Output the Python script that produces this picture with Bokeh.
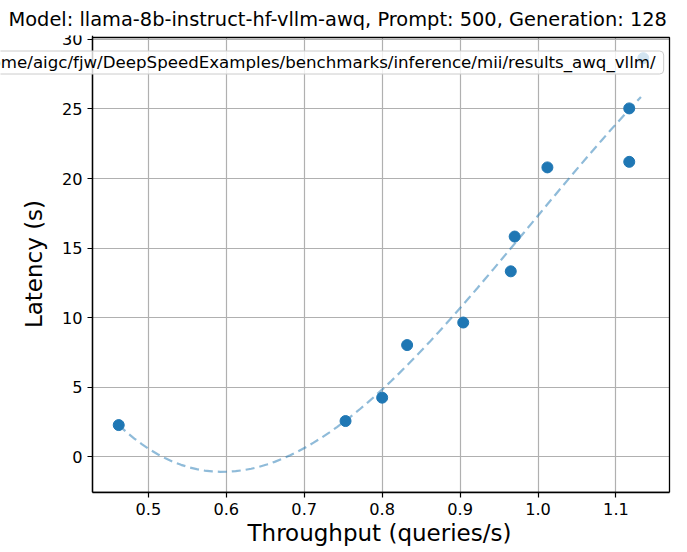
import numpy as np
from bokeh.plotting import figure
from bokeh.models import Range1d, FixedTicker, PrintfTickFormatter, Label, Title
from bokeh.embed import file_html
from bokeh.resources import INLINE

# ---- data ----
throughput = [0.462, 0.753, 0.800, 0.832, 0.904, 0.965, 0.970, 1.012, 1.117, 1.117, 1.135]
latency = [2.28, 2.57, 4.25, 8.03, 9.65, 13.33, 15.83, 20.8, 21.2, 25.04, 28.65]
x_ticks = [0.5, 0.6, 0.7, 0.8, 0.9, 1.0, 1.1]
y_ticks = [0, 5, 10, 15, 20, 25, 30]
title_text = "Model: llama-8b-instruct-hf-vllm-awq, Prompt: 500, Generation: 128"
legend_label = "/home/aigc/fjw/DeepSpeedExamples/benchmarks/inference/mii/results_awq_vllm/"
x_label = "Throughput (queries/s)"
y_label = "Latency (s)"

# cubic fit of the measured points (as in the original benchmark plot)
coef = np.polyfit(throughput, latency, 3)
fit_x = np.arange(min(throughput), max(throughput), 0.01)
fit_y = np.poly1d(coef)(fit_x)

# matplotlib-like 5% margins -> limits of the axes box
xmin, xmax = min(throughput), max(throughput)
ymin = min(min(latency), fit_y.min())
ymax = max(max(latency), fit_y.max())
x_lo, x_hi = xmin - 0.05 * (xmax - xmin), xmax + 0.05 * (xmax - xmin)
y_lo, y_hi = ymin - 0.05 * (ymax - ymin), ymax + 0.05 * (ymax - ymin)

# layout (pixels): the plotting frame reaches the left edge of the page so the
# legend box can run off the picture; the axes box sits inside it.
W, H = 687, 552
BOX_LEFT, BOX_RIGHT, BOX_TOP, BOX_BOTTOM = 92, 669, 37, 492
FRAME_RIGHT, FRAME_TOP = 671, 35
ppx = (BOX_RIGHT - BOX_LEFT) / (x_hi - x_lo)
ppy = (BOX_BOTTOM - BOX_TOP) / (y_hi - y_lo)
x_start = x_lo - BOX_LEFT / ppx
x_end = x_hi + (FRAME_RIGHT - BOX_RIGHT) / ppx
y_end = y_hi + (BOX_TOP - FRAME_TOP) / ppy

FONT = "DejaVu Sans"
BLUE = "#1f77b4"

p = figure(width=W, height=H, output_backend="svg", toolbar_location=None,
           x_range=Range1d(x_start, x_end), y_range=Range1d(y_lo, y_end),
           min_border_left=0, min_border_right=W - FRAME_RIGHT,
           min_border_top=FRAME_TOP, min_border_bottom=H - BOX_BOTTOM)

p.title.text = title_text
p.title.text_font = FONT
p.title.text_font_size = "19.4px"
p.title.text_font_style = "normal"
p.title.text_color = "#000000"
p.title.align = "left"
p.title.offset = 8
p.title.standoff = 10

p.outline_line_color = None
p.background_fill_color = "white"
p.border_fill_color = "white"

for ax, ticks in ((p.xaxis[0], x_ticks), (p.yaxis[0], y_ticks)):
    ax.ticker = FixedTicker(ticks=ticks)
    ax.major_label_text_font = FONT
    ax.major_label_text_font_size = "16.2px"
    ax.major_label_text_color = "#000000"
    ax.major_tick_out = 5
    ax.major_tick_in = 0
    ax.minor_tick_out = 0
    ax.minor_tick_in = 0
    ax.axis_line_color = "#000000"
    ax.axis_line_width = 1.3
    ax.major_tick_line_width = 1.2
    ax.major_label_standoff = 5
p.xaxis[0].formatter = PrintfTickFormatter(format="%.1f")
p.xaxis[0].bounds = (x_lo, x_hi)

yax = p.yaxis[0]
yax.fixed_location = x_lo
yax.axis_label = y_label
yax.axis_label_text_font = FONT
yax.axis_label_text_font_size = "23px"
yax.axis_label_text_font_style = "normal"
yax.axis_label_text_color = "#000000"
yax.axis_label_standoff = 12

# x axis label, centred under the axes box
p.add_layout(Title(text=x_label, text_font=FONT, text_font_size="23px",
                   text_font_style="normal", text_color="#000000",
                   align="left", offset=247, standoff=0), "below")

p.xgrid.ticker = FixedTicker(ticks=x_ticks)
p.ygrid.ticker = FixedTicker(ticks=y_ticks)
p.ygrid[0].cross_bounds = (x_lo, x_hi)
p.xgrid[0].cross_bounds = (y_lo, y_hi)
for g in (p.xgrid[0], p.ygrid[0]):
    g.grid_line_color = "#b0b0b0"
    g.grid_line_width = 1.2

sc = p.scatter(throughput, latency, size=11, fill_color=BLUE, line_color=BLUE)
p.line(fit_x, fit_y, line_color=BLUE, line_alpha=0.5, line_width=2.2, line_dash="9 5")

# axes box (all four spines), drawn at the axis limits
p.quad(left=[x_lo], right=[x_hi], bottom=[y_lo], top=[y_hi],
       fill_color=None, line_color="#000000", line_width=1.3)

# legend box (its marker lies beyond the left edge of the picture, as in the reference)
leg = Label(x=-34, y=430, x_units="screen", y_units="screen", text=legend_label,
            text_font=FONT, text_font_size="16.65px", text_color="#000000",
            text_baseline="middle", text_align="left",
            background_fill_color="white", background_fill_alpha=0.8,
            border_line_color="#cccccc", border_line_width=1,
            padding=dict(left=8, right=8, top=2, bottom=2), border_radius=4)
p.add_layout(leg)

open("out.html", "w").write(file_html(p, INLINE))
